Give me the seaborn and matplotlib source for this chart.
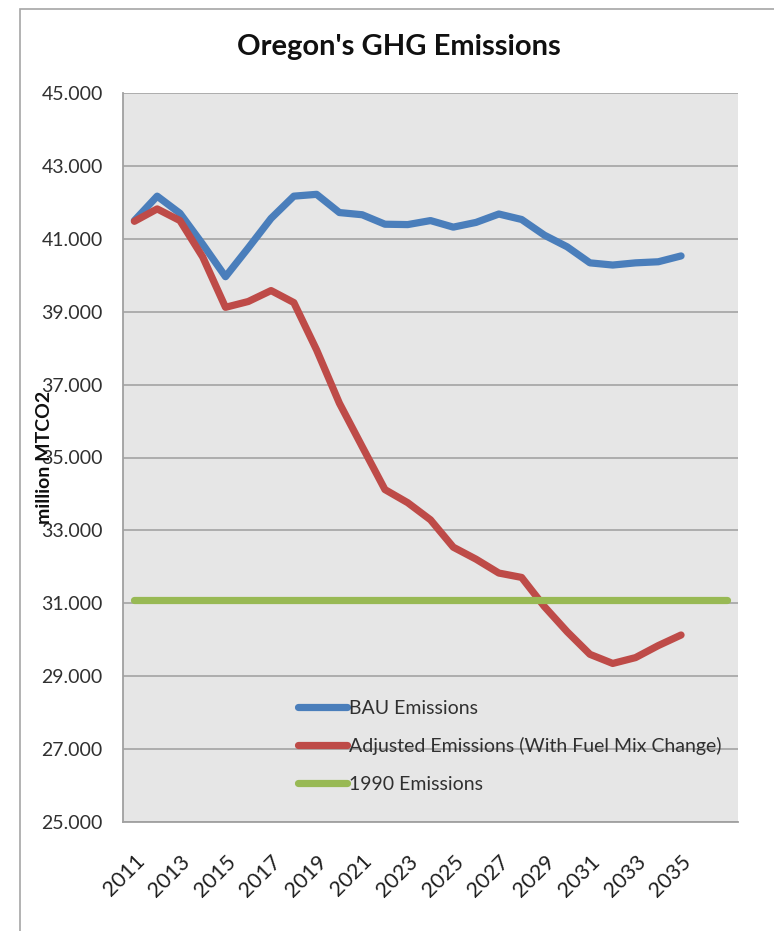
import matplotlib
matplotlib.use("Agg")
import matplotlib.pyplot as plt
import matplotlib.patches as mpatches
import seaborn as sns
import pandas as pd
import numpy as np

# ---- data ----
years = list(range(2011, 2038))
bau_years = list(range(2011, 2036))
bau_emissions = [41.50, 42.17, 41.70, 40.85, 39.96, 40.75, 41.56, 42.17, 42.22, 41.72,
                 41.66, 41.40, 41.39, 41.50, 41.32, 41.45, 41.68, 41.53, 41.10, 40.78,
                 40.34, 40.28, 40.34, 40.37, 40.53]
adjusted_emissions = [41.48, 41.82, 41.50, 40.50, 39.12, 39.28, 39.58, 39.25, 37.95, 36.49,
                      35.30, 34.12, 33.76, 33.29, 32.54, 32.21, 31.83, 31.71, 30.91, 30.22,
                      29.60, 29.35, 29.51, 29.84, 30.13]
emissions_1990 = [31.1] * len(years)
series_names = ["BAU Emissions", "Adjusted Emissions (With Fuel Mix Change)", "1990 Emissions"]
series_colors = ["#4a7ebb", "#be4b48", "#98b954"]
tick_years = list(range(2011, 2036, 2))
y_ticks = list(range(25, 46, 2))

df = pd.concat([
    pd.DataFrame({"year": bau_years, "value": bau_emissions, "series": series_names[0]}),
    pd.DataFrame({"year": bau_years, "value": adjusted_emissions, "series": series_names[1]}),
    pd.DataFrame({"year": years, "value": emissions_1990, "series": series_names[2]}),
])

sns.set_style("white")
plt.rcParams["font.family"] = ["Lato", "DejaVu Sans"]

W, H = 774, 931
fig = plt.figure(figsize=(W / 100, H / 100), dpi=100)
L, R, B, T = 123, 738, 822, 93
ax = fig.add_axes([L / W, 1 - B / H, (R - L) / W, (B - T) / H])
ax.set_facecolor("#e6e6e6")

sns.lineplot(data=df, x="year", y="value", hue="series", hue_order=series_names,
             palette=series_colors, linewidth=5.2, ax=ax, legend=True,
             solid_capstyle="round", solid_joinstyle="round")

ax.set_xlim(2010.5, 2037.5)
ax.set_ylim(25, 45)
ax.set_yticks(y_ticks)
ax.set_yticklabels([f"{v:.3f}" for v in y_ticks], fontsize=14, color="#303030")
ax.set_xticks(tick_years)
ax.set_xticklabels([str(y) for y in tick_years], rotation=45, ha="right",
                   rotation_mode="anchor", fontsize=15.5, color="#202020")
ax.set_xticks(np.arange(2010.5, 2038.0, 1.0), minor=True)
ax.tick_params(axis="x", which="major", length=0, pad=21)
ax.tick_params(axis="x", which="minor", length=4.5, color="#a0a0a0", width=1.2)
ax.tick_params(axis="y", which="major", length=4.5, color="#a0a0a0", width=1.2, pad=10)

ax.yaxis.grid(True, color="#a8a8a8", linewidth=1.3)
ax.xaxis.grid(False)
ax.set_axisbelow(True)
for s in ["top", "right"]:
    ax.spines[s].set_visible(False)
for s in ["left", "bottom"]:
    ax.spines[s].set_color("#a0a0a0")
    ax.spines[s].set_linewidth(1.3)

ax.set_xlabel("")
ax.set_ylabel("million MTCO2", fontsize=14, fontweight="bold", color="#101010")
ax.yaxis.set_label_coords(-0.114, 0.5)

leg = ax.legend(loc="upper left", bbox_to_anchor=((298 - L) / (R - L), (B - 700) / (B - T)),
                frameon=False, fontsize=14, handlelength=2.5, handletextpad=0.12,
                labelspacing=1.04, borderaxespad=0, borderpad=0)
for line in leg.get_lines():
    line.set_linewidth(5.2)
for t in leg.get_texts():
    t.set_color("#303030")

fig.text(399 / W, 1 - 47 / H, "Oregon's GHG Emissions", ha="center", va="center",
         fontsize=21, fontweight="bold", color="#101010")

frame = mpatches.Rectangle((20 / W, -0.1), 2.0, 1.1 - 9 / H, transform=fig.transFigure,
                           fill=False, edgecolor="#a6a6a6", linewidth=1.2)
fig.add_artist(frame)

fig.savefig("out.png", dpi=100, facecolor="white")
